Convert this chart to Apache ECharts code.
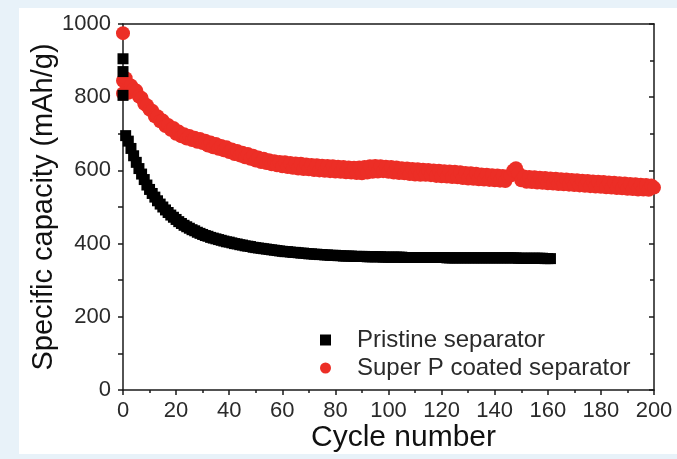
<!DOCTYPE html>
<html>
<head>
<meta charset="utf-8">
<script src="https://cdn.jsdelivr.net/npm/echarts@6/dist/echarts.min.js"></script>
<style>
  html, body { margin: 0; padding: 0; width: 677px; height: 459px; background: #e8f2f9; overflow: hidden; }
  #panel { position: absolute; left: 19px; top: 8px; width: 658px; height: 446px; background: #ffffff; }
  #chart { width: 658px; height: 446px; }
</style>
</head>
<body>
<div id="panel"><div id="chart"></div></div>
<script>
// ---- data ----
const xTicks = [0, 20, 40, 60, 80, 100, 120, 140, 160, 180, 200];
const yTicks = [0, 200, 400, 600, 800, 1000];

// Pristine separator: early points (cycle 0) and cycles 1..161
const pristineEarlyCycles = [0, 0, 0];
const pristineEarlyValues = [905, 870, 805];
const pristineValues = [
  695, 680, 660, 640, 622, 605, 590, 575, 560, 548,
  537, 527, 517, 508, 500, 492, 485, 478, 472, 466,
  460, 455, 450, 446, 442, 438, 435, 431, 428, 425,
  422, 420, 417, 415, 413, 411, 409, 407, 405, 404,
  402, 400, 399, 397, 396, 394, 393, 392, 390, 389,
  388, 387, 386, 385, 384, 383, 382, 381, 380, 379,
  378, 378, 377, 376, 376, 375, 374, 374, 373, 372,
  372, 371, 371, 370, 370, 369, 369, 368, 368, 368,
  367, 367, 366, 366, 366, 366, 365, 365, 365, 365,
  365, 364, 364, 364, 364, 364, 364, 363, 363, 363,
  363, 363, 363, 363, 363, 362, 362, 362, 362, 362,
  362, 362, 362, 362, 362, 362, 362, 362, 362, 362,
  362, 361, 361, 361, 361, 361, 361, 361, 361, 361,
  361, 361, 361, 361, 361, 361, 361, 361, 361, 361,
  361, 361, 361, 361, 361, 361, 361, 361, 360, 360,
  360, 360, 360, 360, 360, 360, 360, 360, 359, 359,
  359
];

// Super P coated separator: early points (cycle 0) and cycles 1..200
const superPEarlyCycles = [0, 0, 0];
const superPEarlyValues = [975, 845, 810];
const superPValues = [
  852, 812, 832, 822, 818, 802, 798, 782, 778, 766,
  763, 748, 748, 734, 736, 721, 724, 711, 716, 700,
  706, 693, 699, 687, 694, 683, 689, 678, 686, 675,
  681, 668, 676, 663, 672, 659, 667, 655, 663, 650,
  657, 645, 653, 641, 648, 636, 645, 632, 640, 627,
  635, 623, 632, 620, 628, 617, 625, 614, 623, 611,
  622, 609, 620, 607, 619, 605, 618, 604, 616, 603,
  615, 601, 614, 600, 613, 599, 612, 598, 611, 597,
  610, 596, 609, 595, 608, 594, 607, 593, 608, 592,
  609, 594, 611, 596, 612, 597, 611, 598, 610, 596,
  609, 594, 608, 593, 606, 592, 605, 590, 604, 589,
  603, 588, 602, 588, 601, 587, 600, 585, 599, 584,
  598, 583, 597, 582, 596, 581, 595, 579, 593, 578,
  592, 577, 591, 576, 589, 575, 588, 574, 587, 573,
  586, 572, 585, 571, 584, 586, 600, 606, 592, 573,
  583, 569, 582, 568, 581, 567, 580, 566, 579, 565,
  578, 564, 577, 563, 576, 562, 575, 561, 574, 560,
  573, 559, 572, 558, 571, 557, 570, 556, 569, 555,
  568, 554, 567, 553, 566, 552, 565, 551, 564, 550,
  563, 549, 562, 548, 561, 548, 560, 547, 559, 553
];

// ---- build series data ----
const pristineData = pristineEarlyCycles.map((c, i) => [c, pristineEarlyValues[i]])
  .concat(pristineValues.map((v, i) => [i + 1, v]));
const superPData = superPEarlyCycles.map((c, i) => [c, superPEarlyValues[i]])
  .concat(superPValues.map((v, i) => [i + 1, v]));

const FONT = 'Liberation Sans, Arial, sans-serif';
const AX = '#1a1a1a';

const chart = echarts.init(document.getElementById('chart'), null, { renderer: 'canvas' });
chart.setOption({
  animation: false,
  backgroundColor: '#ffffff',
  grid: { left: 104, right: 23, top: 16, bottom: 64, containLabel: false, outerBoundsMode: 'none' },
  legend: {
    orient: 'vertical',
    left: 301,
    top: 320,
    padding: 0,
    itemWidth: 11,
    itemHeight: 11,
    itemGap: 4,
    textStyle: { fontFamily: FONT, fontSize: 24, color: '#2a2a2a', padding: [0, 0, 0, 21] },
    data: [
      { name: 'Pristine separator', icon: 'rect' },
      { name: 'Super P coated separator', icon: 'circle' }
    ]
  },
  xAxis: [
    {
      type: 'value', min: 0, max: 200, interval: 20,
      name: 'Cycle number', nameLocation: 'middle', nameGap: 33, nameMoveOverlap: false,
      nameTextStyle: { fontFamily: FONT, fontSize: 30, color: '#111', padding: [0, 0, 0, 30] },
      axisLine: { show: true, onZero: false, lineStyle: { color: AX, width: 1.5 } },
      axisTick: { show: true, inside: false, length: 5, lineStyle: { color: AX, width: 1.5 } },
      minorTick: { show: true, splitNumber: 2, length: 3, lineStyle: { color: AX, width: 1.5 } },
      axisLabel: { fontFamily: FONT, fontSize: 22, color: '#2a2a2a', margin: 10,
        formatter: v => (xTicks.indexOf(v) >= 0 ? String(v) : '') },
      splitLine: { show: false }
    },
    {
      type: 'value', min: 0, max: 200, position: 'top',
      axisLine: { show: true, onZero: false, lineStyle: { color: AX, width: 1.5 } },
      axisTick: { show: false }, axisLabel: { show: false }, splitLine: { show: false }
    }
  ],
  yAxis: [
    {
      type: 'value', min: 0, max: 1000, interval: 200,
      name: 'Specific capacity (mAh/g)', nameLocation: 'middle', nameGap: 65, nameMoveOverlap: false,
      nameTextStyle: { fontFamily: FONT, fontSize: 29, color: '#111' },
      axisLine: { show: true, onZero: false, lineStyle: { color: AX, width: 1.5 } },
      axisTick: { show: true, inside: false, length: 5, lineStyle: { color: AX, width: 1.5 } },
      minorTick: { show: true, splitNumber: 2, length: 5, lineStyle: { color: AX, width: 1.5 } },
      axisLabel: { fontFamily: FONT, fontSize: 22, color: '#2a2a2a', margin: 12,
        formatter: v => (yTicks.indexOf(v) >= 0 ? String(v) : '') },
      splitLine: { show: false }
    },
    {
      type: 'value', min: 0, max: 1000, interval: 200, position: 'right',
      axisLine: { show: true, onZero: false, lineStyle: { color: AX, width: 1.5 } },
      axisTick: { show: true, inside: true, length: 5, lineStyle: { color: AX, width: 1.5 } },
      minorTick: { show: true, splitNumber: 2, length: 4, lineStyle: { color: AX, width: 1.5 } },
      axisLabel: { show: false }, splitLine: { show: false }
    }
  ],
  series: [
    {
      name: 'Pristine separator', type: 'scatter', xAxisIndex: 0, yAxisIndex: 0,
      symbol: 'rect', symbolSize: 11,
      itemStyle: { color: '#000000', opacity: 1 },
      data: pristineData, z: 3
    },
    {
      name: 'Super P coated separator', type: 'scatter', xAxisIndex: 0, yAxisIndex: 0,
      symbol: 'circle', symbolSize: 14,
      itemStyle: { color: '#ec2e26', opacity: 1 },
      data: superPData, z: 2
    }
  ]
});
</script>
</body>
</html>
